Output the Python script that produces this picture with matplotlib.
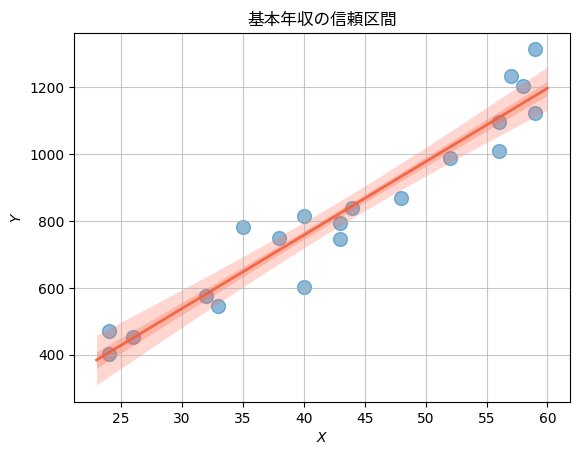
import numpy as np
import matplotlib
matplotlib.use("Agg")
import matplotlib.pyplot as plt

x_values = [24, 24, 26, 32, 33, 35, 38, 40, 40, 43, 43, 44, 48, 52, 56, 56, 57, 58, 59, 59]
y_values = [472, 403, 454, 577, 547, 783, 750, 816, 604, 795, 747, 840, 870, 990, 1008, 1095, 1235, 1205, 1314, 1124]
line_range = [23, 60]
t_outer = 2.101   # 95% CI, df=18
t_inner = 0.688   # 50% CI, df=18
title = "基本年収の信頼区間"

x = np.array(x_values, float)
y = np.array(y_values, float)
n = len(x)
b1, b0 = np.polyfit(x, y, 1)
resid = y - (b0 + b1 * x)
s = np.sqrt(np.sum(resid**2) / (n - 2))
sxx = np.sum((x - x.mean())**2)
xs = np.linspace(line_range[0], line_range[1], 200)
ys = b0 + b1 * xs
se = s * np.sqrt(1 / n + (xs - x.mean())**2 / sxx)

fig = plt.figure(figsize=(5.79, 4.55), dpi=100)
ax = fig.add_axes([74 / 579, 53 / 455, 496 / 579, 369 / 455])
ax.scatter(x, y, s=100, color="C0", alpha=0.5, zorder=1)
ax.fill_between(xs, ys - t_outer * se, ys + t_outer * se, color="tomato", alpha=0.25, lw=0, zorder=1.5)
ax.fill_between(xs, ys - t_inner * se, ys + t_inner * se, color="tomato", alpha=0.3, lw=0, zorder=1.5)
ax.plot(xs, ys, color="#f0603c", alpha=0.9, lw=2, zorder=2)
ax.grid(True, color="#b0b0b0", alpha=0.7)
ax.set_xlim(21.15, 61.85)
ax.set_ylim(259.5, 1362)
ax.set_xlabel("$X$")
ax.set_ylabel("$Y$")
ax.set_title(title, family=["Noto Sans CJK JP", "DejaVu Sans"])
fig.savefig("out.png", dpi=100)
